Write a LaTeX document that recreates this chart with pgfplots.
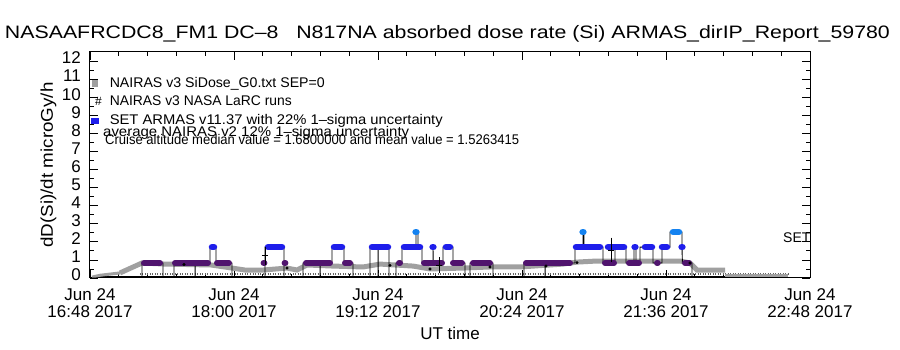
\documentclass[border=0pt]{standalone}
\usepackage{pgfplots}
\pgfplotsset{compat=1.18}
\usepackage{fontspec}
\setmainfont{Liberation Sans}
\definecolor{apurple}{RGB}{80,20,110}
\definecolor{ablue}{RGB}{30,30,235}
\definecolor{alight}{RGB}{20,130,240}
\definecolor{band}{RGB}{160,160,160}
\newcommand\fitw[2]{\resizebox{#1}{\height}{#2}}
\begin{document}
\begin{tikzpicture}
\begin{axis}[
  scale only axis, width=720pt, height=226pt,
  xmin=0, xmax=360, ymin=0, ymax=12.5,
  xtick={0,72,144,216,288,360},
  xticklabels={{Jun 24\\16:48 2017},{Jun 24\\18:00 2017},{Jun 24\\19:12 2017},{Jun 24\\20:24 2017},{Jun 24\\21:36 2017},{Jun 24\\22:48 2017}},
  xticklabel style={align=center, font=\fontsize{17}{17}\selectfont, inner sep=0pt, yshift=-10pt},
  minor x tick num=4,
  ytick={0,1,...,12}, minor y tick num=1,
  yticklabel style={font=\fontsize{17}{17}\selectfont, inner sep=0pt, xshift=-9pt, yshift=3pt},
  /pgf/number format/assume math mode=true,
  tick align=inside, major tick length=8pt, minor tick length=4pt,
  every tick/.style={black, line width=0.8pt},
  axis line style={line width=1pt},
  xlabel={UT time},
  xlabel style={at={(axis description cs:0.5,0)}, anchor=base, yshift=-62pt, font=\fontsize{17}{17}\selectfont, inner sep=0pt},
  ylabel={\fitw{165pt}{\fontsize{17}{17}\selectfont dD(Si)/dt microGy/h}},
  ylabel style={at={(axis description cs:-0.0514,0.5)}, anchor=base, inner sep=0pt},
  title={\fitw{885pt}{\fontsize{18}{18}\selectfont NASAAFRCDC8\_FM1 DC\textendash 8\ \ \ N817NA absorbed dose rate (Si) ARMAS\_dirIP\_Report\_59780}},
  title style={at={(axis description cs:0.4965,1)}, anchor=base, yshift=7pt, inner sep=0pt},
  legend style={draw=none, fill=none, at={(rel axis cs:0,1)}, anchor=north west, xshift=1pt, yshift=-25pt, inner sep=0pt, row sep=5.5pt, column sep=8pt, nodes={inner sep=0pt, text height=10pt, text depth=3pt, font=\fontsize{14}{14}\selectfont}},
  legend cell align=left,
]
\addlegendimage{legend image code/.code={\fill[band] (0pt,-3pt) rectangle (5pt,3pt);}}
\addlegendentry{\fitw{215pt}{NAIRAS v3 SiDose\_G0.txt SEP=0}}
\addlegendimage{legend image code/.code={\node[inner sep=0pt, font=\fontsize{12}{12}\selectfont] at (2.5pt,0pt) {\#};}}
\addlegendentry{\fitw{182pt}{NAIRAS v3 NASA LaRC runs}}
\addlegendimage{legend image code/.code={\fill[ablue] (-1pt,-2.5pt) rectangle (6pt,2.5pt);}}
\addlegendentry{\fitw{333pt}{SET ARMAS v11.37 with 22\% 1\textendash sigma uncertainty}}

% baseline (zeros) and texture
\addplot[forget plot, black, line width=2.5pt] coordinates {(1,0.06) (349,0.06)};
\addplot[forget plot, black!60, line width=2pt, dash pattern=on 1pt off 1.5pt] coordinates {(25,0.2) (349,0.2)};

% NAIRAS v3 SiDose band
\addplot[forget plot, band, line width=3pt] coordinates {(1,0.05) (5,0.15) (15,0.28)};
\addplot[forget plot, band, line width=5pt] coordinates {
(15,0.28) (26,0.83) (37.5,0.77) (60.5,0.72) (71,0.55) (77.5,0.44) (86.5,0.44) (98.5,0.55) (103.5,0.44) (108.5,0.72) (121.5,0.66) (136.5,0.61) (145,0.77) (161.5,0.66) (170,0.5) (186.5,0.55) (200,0.61) (215,0.61) (236.5,0.77) (243.5,0.88) (253.5,0.94) (295,0.94) (300,0.83) (303.5,0.44) (317.5,0.44)};
\addplot[forget plot, band, line width=3pt] coordinates {(317.5,0.12) (349,0.12)};

% ARMAS connecting line
\addplot[forget plot, black, line width=0.9pt] coordinates {
(0,0) (26,0) (26,0.83) (36.5,0.83) (36.5,0) (42,0) (42,0.83) (52.5,0.83) (52.5,0) (52.6,0) (52.6,0.83)
(60,0.83) (60,1.71) (63,1.71) (63,0.83) (71,0.83) (71,0)
(87.5,0) (87.5,1.71) (97,1.71) (97,0)
(106.5,0) (106.5,0.83) (115,0.83) (115,0) (115.1,0) (115.1,0.83) (121,0.83) (121,1.71) (127,1.71) (127,0.83) (131.5,0.83) (131.5,0)
(140,0) (140,1.71) (144,1.71) (144,0) (144.1,0) (144.1,1.71) (149.5,1.71) (149.5,0)
(153,0) (153,0.83) (156,0.83) (156,1.71) (163,1.71) (163,2.54) (164,2.54) (164,1.71) (166,1.71) (166,0.83) (171.5,0.83) (171.5,1.71) (171.6,0.83) (176.5,0.83) (176.5,1.71) (181.5,1.71) (181.5,0.83) (187.5,0.83) (187.5,0) (190,0) (190,0.83) (201.5,0.83) (201.5,0)
(217,0) (217,0.83) (227.5,0.83) (227.5,0) (227.6,0) (227.6,0.83) (242.5,0.83) (242.5,1.71) (246.5,1.71) (246.5,2.54) (247,2.54) (247,1.71) (256.5,1.71) (256.5,0.83) (262.5,0.83) (262.5,1.71) (268,1.71) (268,0.83) (272,0.83) (272,1.71) (273,1.71) (273,0.83) (275,0.83) (275,1.71) (281.5,1.71) (281.5,0.83) (286,0.83) (286,1.71) (290,1.71) (290,2.54) (296,2.54) (296,1.71) (296.2,0.83) (301,0.83) (301,0) (349,0)};

% ARMAS purple
\addplot[forget plot, apurple, line width=6pt, line cap=round, unbounded coords=jump] coordinates {
(27,0.83) (35,0.83) (nan,nan) (42.5,0.83) (59,0.83) (nan,nan) (63.5,0.83) (69.5,0.83) (nan,nan)
(86.8,0.83) (87.2,0.83) (nan,nan) (97.3,0.83) (97.7,0.83) (nan,nan) (108,0.83) (120,0.83) (nan,nan)
(127.5,0.83) (130,0.83) (nan,nan) (154.5,0.83) (155,0.83) (nan,nan) (167,0.83) (176,0.83) (nan,nan)
(181.5,0.83) (186,0.83) (nan,nan) (191.5,0.83) (200,0.83) (nan,nan) (218,0.83) (240,0.83) (nan,nan)
(257.5,0.83) (262,0.83) (nan,nan) (269.5,0.83) (274.5,0.83) (nan,nan) (283.5,0.83) (283.9,0.83) (nan,nan)
(297.5,0.83) (299.5,0.83)};
% ARMAS blue
\addplot[forget plot, ablue, line width=6.5pt, line cap=round, unbounded coords=jump] coordinates {
(61,1.71) (62,1.71) (nan,nan) (89,1.71) (96,1.71) (nan,nan) (122,1.71) (126,1.71) (nan,nan)
(141,1.71) (149,1.71) (nan,nan) (157,1.71) (165,1.71) (nan,nan) (171.3,1.71) (171.7,1.71) (nan,nan)
(178,1.71) (180,1.71) (nan,nan) (243,1.71) (255,1.71) (nan,nan) (259,1.71) (267,1.71) (nan,nan)
(272.3,1.71) (272.7,1.71) (nan,nan) (277.5,1.71) (281,1.71) (nan,nan) (286,1.71) (288.5,1.71) (nan,nan)
(295.8,1.71) (296.2,1.71)};
% ARMAS light blue
\addplot[forget plot, alight, line width=6.5pt, line cap=round, unbounded coords=jump] coordinates {
(162.8,2.54) (163.2,2.54) (nan,nan) (246.3,2.54) (246.7,2.54) (nan,nan) (291.5,2.54) (294.5,2.54)};

% NAIRAS LaRC small points
\addplot[forget plot, only marks, black, mark=*, mark size=1.3pt] coordinates {
(47,0.75) (98.5,0.55) (150,0.7) (170,0.5) (200,0.61) (228,0.66) (243.5,0.85) (300,0.83)};
% uncertainty bars
\addplot[forget plot, only marks, black, mark=+, mark size=3pt, line width=0.9pt,
  error bars/.cd, y dir=both, y explicit, error mark=-, error mark options={mark size=4pt, line width=0.9pt, black}, error bar style={line width=0.9pt, black}]
  coordinates {(87.5,1.22) +- (0,0.3) (174.5,0.71) +- (0,0.22) (260.5,1.55) +- (0,0.46)};

\node[anchor=base west, inner sep=0pt] at (axis cs:6.5,7.85) {\fitw{306pt}{\fontsize{14}{14}\selectfont average NAIRAS v2 12\% 1\textendash sigma uncertainty}};
\node[anchor=base west, inner sep=0pt] at (axis cs:7.5,7.41) {\fitw{414pt}{\fontsize{14}{14}\selectfont Cruise altitude median value = 1.6800000 and mean value = 1.5263415}};
\node[anchor=base west, inner sep=0pt] at (axis cs:346.5,1.99) {\fontsize{14}{14}\selectfont SET};
\end{axis}
\pgfresetboundingbox
\path (current axis.south west) ++(-90pt,-72pt) rectangle ++(900pt,350pt);
\end{tikzpicture}
\end{document}
